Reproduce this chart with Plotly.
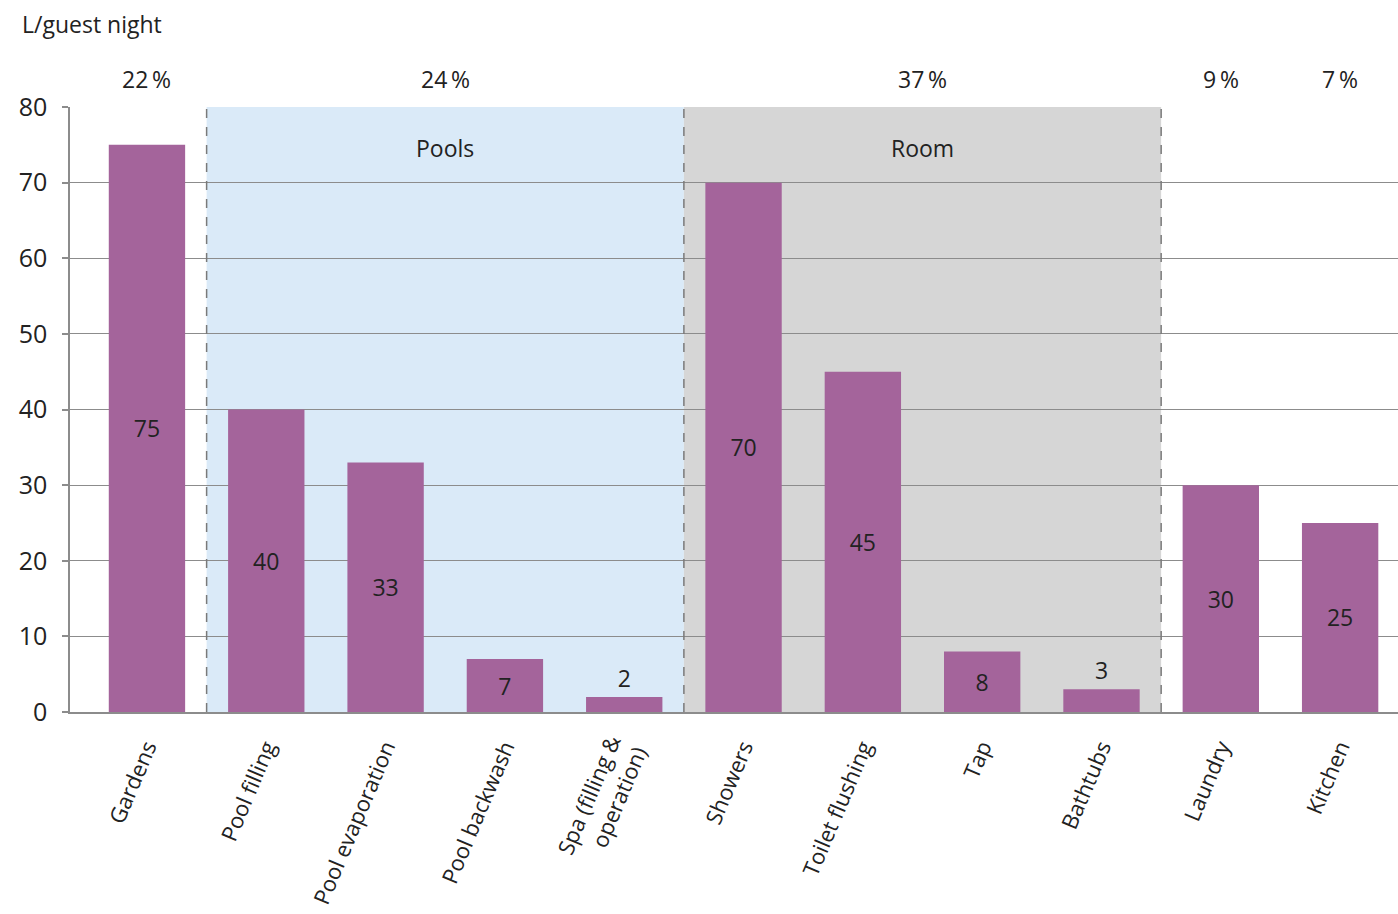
import plotly.graph_objects as go

categories = ["Gardens", "Pool filling", "Pool evaporation", "Pool backwash",
              "Spa (filling &<br>operation)", "Showers", "Toilet flushing", "Tap",
              "Bathtubs", "Laundry", "Kitchen"]
values = [75, 40, 33, 7, 2, 70, 45, 8, 3, 30, 25]
label_pos = ["inside", "inside", "inside", "inside", "outside", "inside",
             "inside", "inside", "outside", "inside", "inside"]

# group shares shown above the plot: (centre in category units, text)
share_x = [0, 2.5, 6.5, 9, 10]
share_text = ["22\u2009%", "24\u2009%", "37\u2009%", "9\u2009%", "7\u2009%"]

groups = ["Pools", "Room"]
group_span = [(0.5, 4.5), (4.5, 8.5)]
group_fill = ["#DAEAF8", "#D6D6D6"]

FONT = "Open Sans"
TXT = "#222222"
GRID = "#8c8c8c"

x_idx = list(range(len(categories)))

fig = go.Figure()
fig.add_trace(go.Bar(
    x=x_idx, y=values, width=0.64,
    marker=dict(color="#A4649B", line=dict(width=0)),
    text=[str(v) for v in values], textposition=label_pos,
    insidetextanchor="middle", textangle=0,
    textfont=dict(family=FONT, size=23, color=TXT),
    outsidetextfont=dict(family=FONT, size=23, color=TXT),
    insidetextfont=dict(family=FONT, size=23, color=TXT),
    cliponaxis=False, hoverinfo="skip",
))

shapes = []
for (x0, x1), col in zip(group_span, group_fill):
    shapes.append(dict(type="rect", xref="x", yref="y", x0=x0, x1=x1, y0=0, y1=80,
                       fillcolor=col, line=dict(width=0), layer="below"))
for xv in [0.5, 4.5, 8.5]:
    shapes.append(dict(type="line", xref="x", yref="y", x0=xv, x1=xv, y0=0, y1=80,
                       line=dict(color="#7a7a7a", width=1.5, dash="dash"), layer="above"))

annotations = []
for xv, t in zip(share_x, share_text):
    annotations.append(dict(x=xv, y=1, xref="x", yref="paper", text=t, showarrow=False,
                            yanchor="bottom", yshift=10,
                            font=dict(family=FONT, size=23, color=TXT)))
for name, (x0, x1) in zip(groups, group_span):
    annotations.append(dict(x=(x0 + x1) / 2, y=74.6, xref="x", yref="y", text=name,
                            showarrow=False, font=dict(family=FONT, size=23, color=TXT)))
# unit label at the top-left corner of the page
annotations.append(dict(xref="paper", yref="paper", x=-50 / 1328, y=1 + (107 - 24) / 605,
                        text="L/guest night", showarrow=False,
                        xanchor="left", yanchor="middle",
                        font=dict(family=FONT, size=23, color=TXT)))

fig.update_layout(
    width=1398, height=914,
    margin=dict(l=70, r=0, t=107, b=202),
    plot_bgcolor="white", paper_bgcolor="white",
    showlegend=False,
    shapes=shapes, annotations=annotations,
    font=dict(family=FONT, color=TXT),
    xaxis=dict(
        range=[-0.645, 10.485], tickmode="array", tickvals=x_idx, ticktext=categories,
        tickangle=-67, tickfont=dict(family=FONT, size=22, color=TXT),
        ticklabelstandoff=12, automargin=False,
        showgrid=False, showline=True, linecolor=GRID, linewidth=1.5,
        ticks="", zeroline=False,
    ),
    yaxis=dict(
        range=[0, 80], tickvals=[0, 10, 20, 30, 40, 50, 60, 70, 80],
        tickfont=dict(family=FONT, size=25, color=TXT),
        ticklabelstandoff=10, automargin=False,
        showgrid=True, gridcolor=GRID, gridwidth=1.2,
        showline=True, linecolor=GRID, linewidth=1.5,
        ticks="outside", ticklen=6, tickcolor=GRID, tickwidth=1.5,
        zeroline=False,
    ),
)

fig.write_html("out.html")
